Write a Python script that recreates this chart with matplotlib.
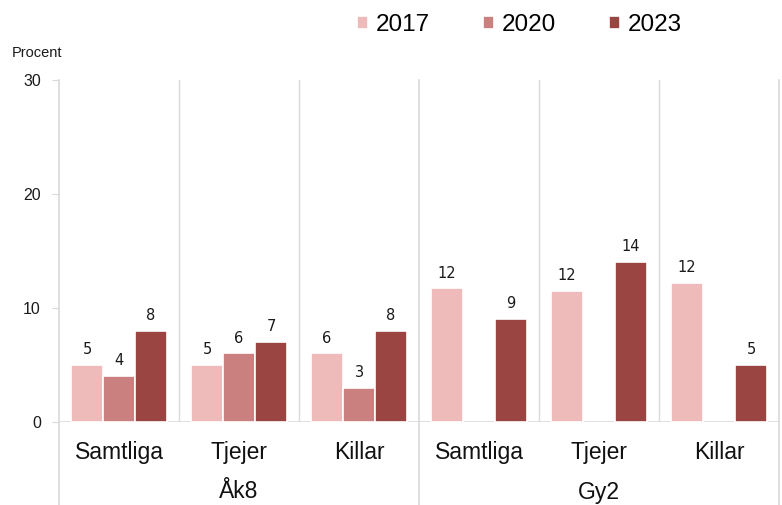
import matplotlib
matplotlib.use('Agg')
import matplotlib.pyplot as plt
import matplotlib.transforms as mtransforms
from matplotlib.lines import Line2D
import numpy as np

# data
groups = ['Åk8', 'Gy2']
categories = ['Samtliga', 'Tjejer', 'Killar', 'Samtliga', 'Tjejer', 'Killar']
years = ['2017', '2020', '2023']
v2017 = [5, 5, 6, 11.7, 11.5, 12.2]
v2020 = [4, 6, 3, None, None, None]
v2023 = [8, 7, 8, 9, 14, 5]
labels2017 = ['5', '5', '6', '12', '12', '12']
labels2020 = ['4', '6', '3', '', '', '']
labels2023 = ['8', '7', '8', '9', '14', '5']

colors = ['#EFBBBA', '#C9807E', '#9B4542']
grid_col = '#D9D9D9'

plt.rcParams['font.family'] = ['Liberation Sans', 'DejaVu Sans']

fig = plt.figure(figsize=(7.82, 5.05), dpi=100)
ax = fig.add_axes([59 / 782, 1 - 421.7 / 505, 720 / 782, (421.7 - 80) / 505])

x = np.arange(len(categories))
w = 0.267
series = [(v2017, labels2017), (v2020, labels2020), (v2023, labels2023)]
handles = []
for i, (vals, labs) in enumerate(series):
    xs = [xx + (i - 1) * w for xx, v in zip(x, vals) if v is not None]
    ys = [v for v in vals if v is not None]
    ls = [l for l, v in zip(labs, vals) if v is not None]
    bars = ax.bar(xs, ys, width=w, color=colors[i], edgecolor='white', linewidth=1.2, zorder=3)
    handles.append(bars)
    for b, l in zip(bars, ls):
        ax.annotate(l, (b.get_x() + b.get_width() / 2, b.get_height()),
                    xytext=(0, 11), textcoords='offset points', ha='center', va='center',
                    fontsize=10.5, family='DejaVu Sans', color='#1a1a1a')

ax.set_xlim(-0.5, len(categories) - 0.5)
ax.set_ylim(0, 30)
ax.set_yticks([0, 10, 20, 30])
ax.tick_params(axis='y', length=5, color=grid_col, labelsize=11.5, labelcolor='#1a1a1a', pad=8)
ax.set_xticks(x)
ax.set_xticklabels(categories, fontsize=16.5, color='#111111')
ax.tick_params(axis='x', length=0, pad=14)
for s in ax.spines.values():
    s.set_visible(False)

# zero line + separators
ax.axhline(0, color=grid_col, linewidth=1.2, zorder=2)
for xv in [0.5, 1.5, 3.5, 4.5]:
    ax.axvline(xv, color=grid_col, linewidth=1, zorder=1)
trans = mtransforms.blended_transform_factory(ax.transData, fig.transFigure)
top = 1 - 80 / 505
for xv in [-0.5, 2.5, 5.5]:
    fig.add_artist(Line2D([xv, xv], [0, top], transform=trans, color=grid_col, linewidth=1.2))

# group labels
for gi, g in enumerate(groups):
    fig.text(3 * gi + 1, 1 - 492 / 505, g, transform=trans, ha='center', va='center',
             fontsize=16.5, color='#111111')

fig.text(12 / 782, 1 - 53 / 505, 'Procent', fontsize=10.5, va='center', ha='left', color='#1a1a1a')

fig.legend(handles, years, loc='center left', bbox_to_anchor=(357 / 782, 1 - 25 / 505),
           ncol=3, frameon=False, fontsize=17.5, handlelength=0.46, handleheight=0.46,
           handletextpad=0.3, columnspacing=2.2, borderpad=0, borderaxespad=0)

plt.savefig('out.png', dpi=100)
